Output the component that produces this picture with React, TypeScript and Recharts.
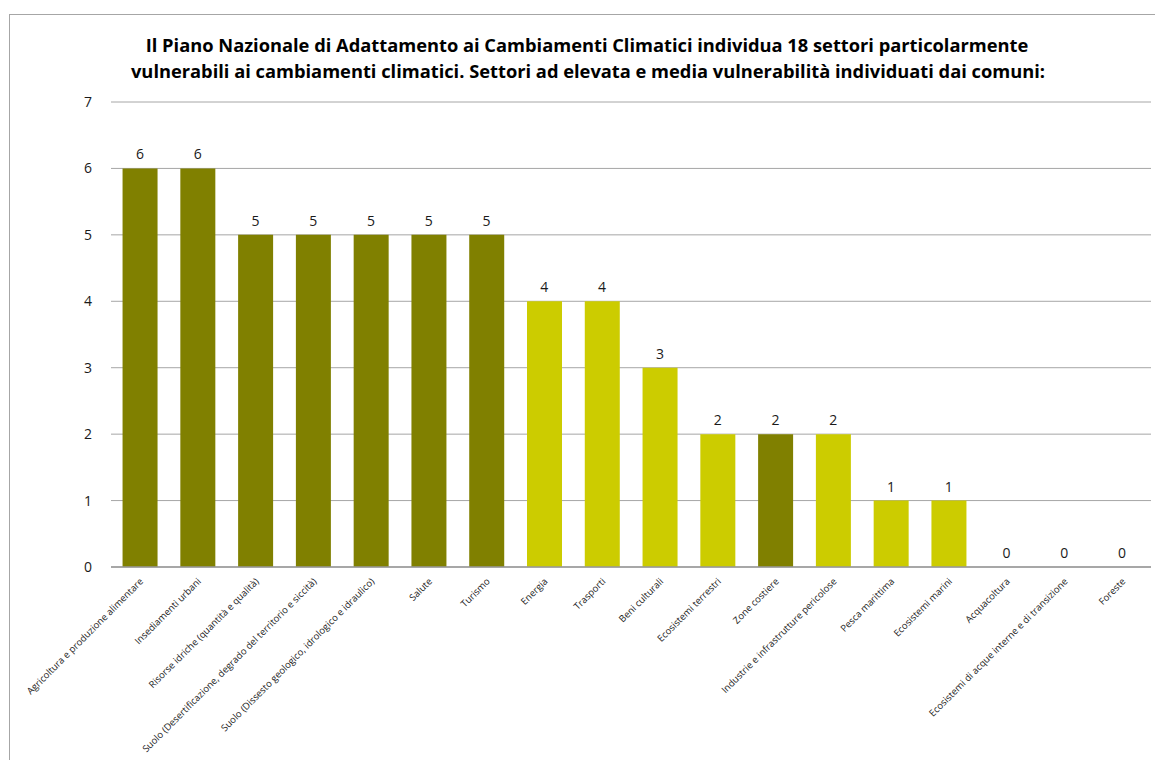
import React from "react";
import { ComposedChart, Bar, Line, XAxis, YAxis, CartesianGrid, Cell, LabelList } from "recharts";

const categories = [
  "Agricoltura e produzione alimentare",
  "Insediamenti urbani",
  "Risorse idriche (quantità e qualità)",
  "Suolo (Desertificazione, degrado del territorio e siccità)",
  "Suolo (Dissesto geologico, idrologico e idraulico)",
  "Salute",
  "Turismo",
  "Energia",
  "Trasporti",
  "Beni culturali",
  "Ecosistemi terrestri",
  "Zone costiere",
  "Industrie e infrastrutture pericolose",
  "Pesca marittima",
  "Ecosistemi marini",
  "Acquacoltura",
  "Ecosistemi di acque interne e di transizione",
  "Foreste",
];
const values = [6, 6, 5, 5, 5, 5, 5, 4, 4, 3, 2, 2, 2, 1, 1, 0, 0, 0];
const levels = ["E", "E", "E", "E", "E", "E", "E", "M", "M", "M", "M", "E", "M", "M", "M", "M", "M", "M"];
const yTicks = [0, 1, 2, 3, 4, 5, 6, 7];
const titleLines = [
  "Il Piano Nazionale di Adattamento ai Cambiamenti Climatici individua 18 settori particolarmente",
  "vulnerabili ai cambiamenti climatici. Settori ad elevata e media vulnerabilità individuati dai comuni:",
];

const COLOR_HIGH = "#808000";
const COLOR_MED = "#CCCC00";
const FONT = "'Open Sans', sans-serif";

const data = categories.map((c, i) => ({ name: c, value: values[i], level: levels[i] }));

const XTick = (props: any) => {
  const { x, y, payload } = props;
  const tx = x + 4;
  const ty = y + 7;
  return (
    <text
      x={tx}
      y={ty}
      transform={`rotate(-45, ${tx}, ${ty})`}
      textAnchor="end"
      fontSize={9.5}
      fontFamily={FONT}
      fill="#1a1a1a"
    >
      {payload.value}
    </text>
  );
};

export default function App() {
  return (
    <div style={{ position: "absolute", left: 0, top: 0, width: 1155, height: 760, background: "#fff", overflow: "hidden" }}>
      <div
        style={{
          position: "absolute",
          left: 9,
          top: 14,
          width: 1160,
          height: 800,
          border: "1px solid #a6a6a6",
          boxSizing: "border-box",
        }}
      />
      <ComposedChart
        width={1155}
        height={760}
        data={data}
        margin={{ top: 102, right: 4, bottom: 0, left: 0 }}
        barCategoryGap="20%"
        style={{ position: "absolute", left: 0, top: 0 }}
      >
        <text x={587} y={52} textAnchor="middle" fontFamily={FONT} fontWeight={700} fontSize={18.3} fill="#000">
          {titleLines[0]}
        </text>
        <text x={588} y={78} textAnchor="middle" fontFamily={FONT} fontWeight={700} fontSize={18.3} fill="#000">
          {titleLines[1]}
        </text>
        <CartesianGrid vertical={false} stroke="#a6a6a6" strokeWidth={1} />
        <XAxis
          dataKey="name"
          interval={0}
          tick={<XTick />}
          tickLine={false}
          axisLine={{ stroke: "#999999", strokeWidth: 1.5 }}
          height={193}
        />
        <YAxis
          domain={[0, 7]}
          ticks={yTicks}
          width={111}
          axisLine={false}
          tickLine={false}
          tickSize={6}
          tickMargin={13}
          tick={{ fontSize: 14, fontFamily: FONT, fill: "#1a1a1a" }}
        />
        <Bar dataKey="value" isAnimationActive={false}>
          {data.map((d, i) => (
            <Cell key={i} fill={d.level === "E" ? COLOR_HIGH : COLOR_MED} />
          ))}
        </Bar>
        <Line
          dataKey="value"
          stroke="none"
          dot={false}
          activeDot={false}
          isAnimationActive={false}
          legendType="none"
        >
          <LabelList dataKey="value" position="top" offset={9} fontSize={14} fontFamily={FONT} fill="#1a1a1a" />
        </Line>
      </ComposedChart>
    </div>
  );
}
